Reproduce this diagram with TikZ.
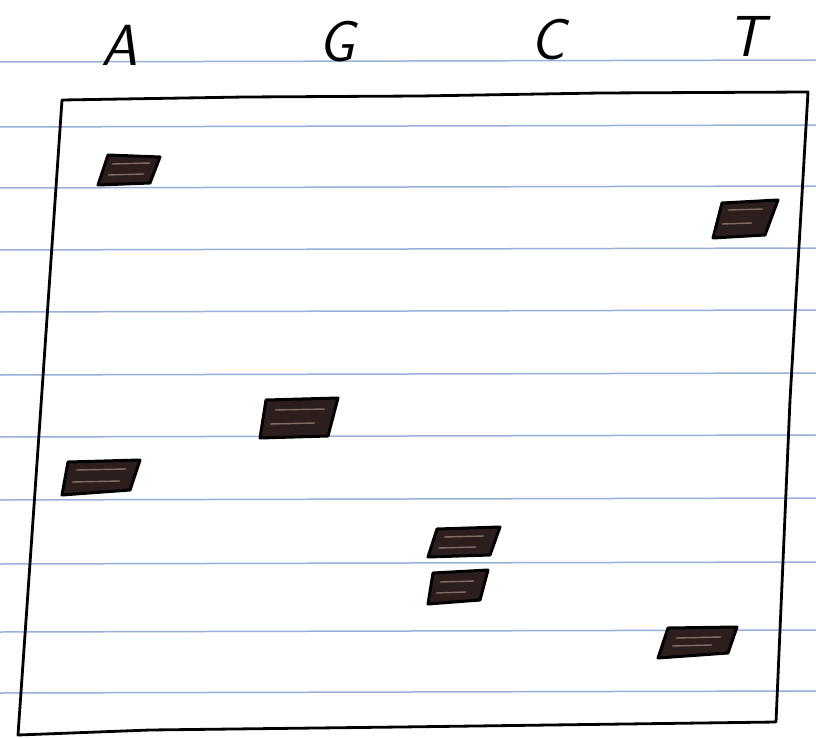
\documentclass[tikz,border=0pt]{standalone}
\definecolor{ruleblue}{RGB}{150,178,220}
\definecolor{bandfill}{RGB}{45,30,30}
\begin{document}
\begin{tikzpicture}[x=1pt,y=-1pt,
  rule/.style={draw=ruleblue,line width=1.5pt},
  gelbox/.style={draw=black,line width=2.8pt,line join=round},
  band/.style={draw=black,line width=3pt,fill=bandfill,line join=round},
  streak/.style={draw=white!60!brown,line width=1.4pt,opacity=0.45},
  lane/.style={font=\fontsize{58}{60}\selectfont\sffamily\itshape,inner sep=0pt}]
\useasboundingbox (0,0) rectangle (816,738);
\fill[white] (0,0) rectangle (816,738);
% ruled paper lines
\foreach \y in {62,127,188,250,312,375,437,500,564,632,693}
  \draw[rule] (0,\y) -- (816,\y-2);
% lane labels
\node[lane] (A) at (120,45) {A};
\node[lane] (G) at (337,42) {G};
\node[lane] (C) at (548,40) {C};
\node[lane] (T) at (746,36) {T};
% gel outline
\draw[gelbox] (62,100) -- (245,97) -- (420,96) -- (600,93) -- (808,92)
  -- (790,400) -- (776,722) -- (400,727) -- (150,730) -- (18,735) -- (40,420) -- cycle;
% bands
\draw[band] (108,155) -- (160,157) -- (150,183) -- (98,185) -- cycle;
\draw[band] (722,203) -- (778,200) -- (765,235) -- (713,238) -- cycle;
\draw[band] (266,400) -- (338,398) -- (328,436) -- (260,438) -- cycle;
\draw[band] (68,462) -- (140,460) -- (130,490) -- (62,495) -- cycle;
\draw[band] (437,529) -- (500,527) -- (490,555) -- (428,557) -- cycle;
\draw[band] (433,573) -- (488,570) -- (480,600) -- (428,604) -- cycle;
\draw[band] (668,628) -- (737,627) -- (728,653) -- (658,658) -- cycle;
% light streaks inside bands
\foreach \x/\y/\w in {112/164/38,108/175/36,728/210/35,722/224/30,275/410/50,270/424/45,76/470/50,72/482/48,444/537/40,438/548/38,440/582/34,436/593/30,676/638/45,672/646/40}
  \draw[streak] (\x,\y) -- (\x+\w,\y-1);
\end{tikzpicture}
\end{document}
